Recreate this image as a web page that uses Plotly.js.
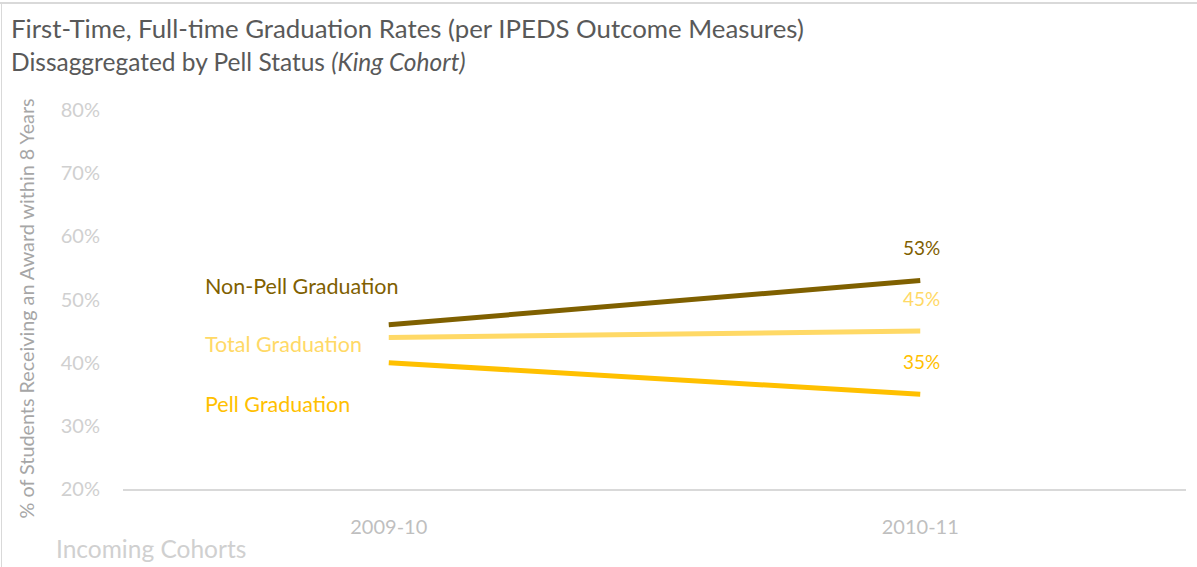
<!DOCTYPE html>
<html>
<head>
<meta charset="utf-8">
<script src="https://cdn.plot.ly/plotly-3.0.1.min.js"></script>
<style>
  html, body { margin: 0; padding: 0; background: #fff; }
  #chart { width: 1197px; height: 567px; position: relative; }
  #chart::before { content: ""; position: absolute; left: 0; top: 2px; width: 1197px; height: 2px; background: #d9d9d9; z-index: 10; pointer-events: none; }
  #chart::after { content: ""; position: absolute; left: 1px; top: 2px; width: 1px; height: 565px; background: #d9d9d9; z-index: 10; pointer-events: none; }
</style>
</head>
<body>
<div id="chart"></div>
<script>
const cohorts = ["2009-10", "2010-11"];
const seriesNames = ["Non-Pell Graduation", "Total Graduation", "Pell Graduation"];
const nonPell = [0.46, 0.53];
const total = [0.44, 0.45];
const pell = [0.40, 0.35];
const yTicks = [0.2, 0.3, 0.4, 0.5, 0.6, 0.7, 0.8];
const yTickLabels = ["20%", "30%", "40%", "50%", "60%", "70%", "80%"];

const seriesValues = [nonPell, total, pell];
const colors = ["#7f6000", "#ffd966", "#ffc000"];
const nameShift = [39, -7, -41];
const FONT = "Lato, 'Open Sans', sans-serif";

const traces = seriesValues.map((vals, i) => ({
  x: cohorts, y: vals, type: "scatter", mode: "lines",
  name: seriesNames[i],
  line: { color: colors[i], width: 5 },
  hoverinfo: "skip"
}));

const annotations = [];
seriesValues.forEach((vals, i) => {
  annotations.push({
    x: cohorts[0], y: vals[0], xref: "x", yref: "y",
    text: seriesNames[i], showarrow: false,
    xanchor: "left", yanchor: "middle",
    xshift: -186, yshift: nameShift[i],
    font: { family: FONT, size: 21.5, color: colors[i] }
  });
  const last = vals.length - 1;
  annotations.push({
    x: cohorts[last], y: vals[last], xref: "x", yref: "y",
    text: Math.round(vals[last] * 100) + "%", showarrow: false,
    xanchor: "center", yanchor: "middle",
    xshift: 1, yshift: 33,
    font: { family: FONT, size: 19, color: colors[i] }
  });
});

annotations.push({
  xref: "paper", yref: "paper", x: 0, y: 0.5, xshift: -98, yshift: -9,
  text: "% of Students Receiving an Award within 8 Years",
  textangle: -90, showarrow: false, xanchor: "center", yanchor: "middle",
  font: { family: FONT, size: 19.8, color: "#a6a6a6" }
});
annotations.push({
  xref: "paper", yref: "paper", x: 0, y: 0, xshift: -69, yshift: -59,
  text: "Incoming Cohorts", showarrow: false, xanchor: "left", yanchor: "middle",
  font: { family: FONT, size: 24.5, color: "#d0d0d0" }
});
annotations.push({
  xref: "paper", yref: "paper", x: 0, y: 1, xshift: -114, yshift: 82,
  text: "First-Time, Full-time Graduation Rates (per IPEDS Outcome Measures)",
  showarrow: false, xanchor: "left", yanchor: "middle",
  font: { family: FONT, size: 25.8, color: "#595959" }
});
annotations.push({
  xref: "paper", yref: "paper", x: 0, y: 1, xshift: -114, yshift: 49,
  text: "Dissaggregated by Pell Status <i>(King Cohort)</i>",
  showarrow: false, xanchor: "left", yanchor: "middle",
  font: { family: FONT, size: 24.5, color: "#595959" }
});

const layout = {
  width: 1197, height: 567,
  margin: { l: 123, r: 11, t: 110, b: 78 },
  paper_bgcolor: "#ffffff", plot_bgcolor: "#ffffff",
  showlegend: false,
  font: { family: FONT },
  xaxis: {
    type: "category", range: [-0.5, 1.5],
    showgrid: false, zeroline: false,
    showline: true, linecolor: "#d9d9d9", linewidth: 2,
    ticks: "", ticklabelstandoff: 19,
    tickfont: { family: FONT, size: 20, color: "#bfbfbf" }
  },
  yaxis: {
    range: [0.2, 0.8], tickvals: yTicks, ticktext: yTickLabels,
    showgrid: false, zeroline: false, showline: false,
    ticks: "", ticklabelstandoff: 22,
    tickfont: { family: FONT, size: 20, color: "#d0d0d0" }
  },
  annotations: annotations
};

Plotly.newPlot("chart", traces, layout, { staticPlot: true, displayModeBar: false });
</script>
</body>
</html>
